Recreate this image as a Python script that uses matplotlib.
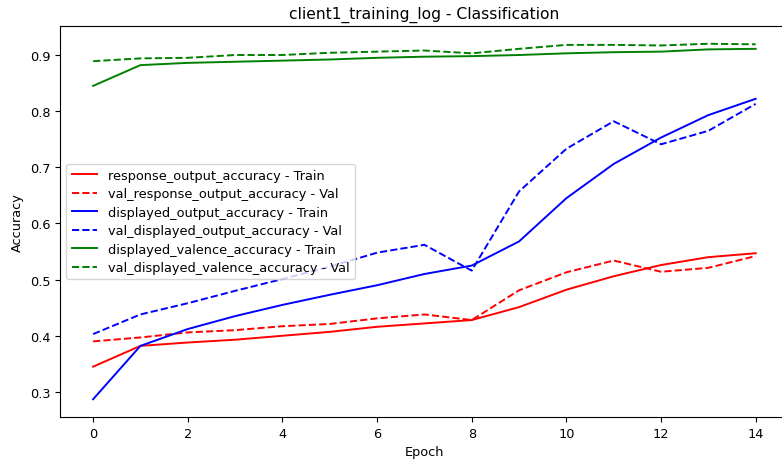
import matplotlib
matplotlib.use("Agg")
import matplotlib.pyplot as plt
import numpy as np

# ── Data ─────────────────────────────────────────────────────────────────────
EPOCHS = np.arange(15)

RESP_TRAIN = [0.345, 0.382, 0.388, 0.393, 0.400, 0.407, 0.416, 0.422, 0.428,
              0.451, 0.482, 0.506, 0.526, 0.540, 0.547]
RESP_VAL   = [0.390, 0.397, 0.406, 0.410, 0.417, 0.421, 0.431, 0.438, 0.428,
              0.481, 0.513, 0.534, 0.514, 0.521, 0.542]
DISP_TRAIN = [0.287, 0.382, 0.412, 0.435, 0.455, 0.473, 0.490, 0.510, 0.525,
              0.568, 0.645, 0.706, 0.753, 0.793, 0.822]
DISP_VAL   = [0.403, 0.438, 0.458, 0.480, 0.501, 0.523, 0.548, 0.562, 0.516,
              0.657, 0.733, 0.782, 0.741, 0.765, 0.813]
VAL_TRAIN  = [0.845, 0.882, 0.886, 0.888, 0.890, 0.892, 0.895, 0.897, 0.898,
              0.900, 0.903, 0.905, 0.906, 0.910, 0.911]
VAL_VAL    = [0.889, 0.894, 0.895, 0.900, 0.900, 0.904, 0.906, 0.908, 0.903,
              0.911, 0.918, 0.918, 0.917, 0.920, 0.919]

SERIES = [
    ("response_output_accuracy - Train", RESP_TRAIN, "red", "-"),
    ("val_response_output_accuracy - Val", RESP_VAL, "red", "--"),
    ("displayed_output_accuracy - Train", DISP_TRAIN, "blue", "-"),
    ("val_displayed_output_accuracy - Val", DISP_VAL, "blue", "--"),
    ("displayed_valence_accuracy - Train", VAL_TRAIN, "green", "-"),
    ("val_displayed_valence_accuracy - Val", VAL_VAL, "green", "--"),
]

# ── Plot ─────────────────────────────────────────────────────────────────────
fig = plt.figure(figsize=(7.82, 4.6), dpi=100)
ax = fig.add_axes([0.0767, 0.0913, 0.932, 0.85])

for label, vals, color, ls in SERIES:
    ax.plot(EPOCHS, vals, color=color, linestyle=ls, linewidth=1.4, label=label)

ax.set_title("client1_training_log - Classification", fontsize=11.2)
ax.set_xlabel("Epoch", fontsize=9.3)
ax.set_ylabel("Accuracy", fontsize=9.3)
ax.tick_params(labelsize=9.3)
ax.legend(loc="center left", fontsize=9.3, labelspacing=0.42)

fig.savefig("out.png", dpi=100)
